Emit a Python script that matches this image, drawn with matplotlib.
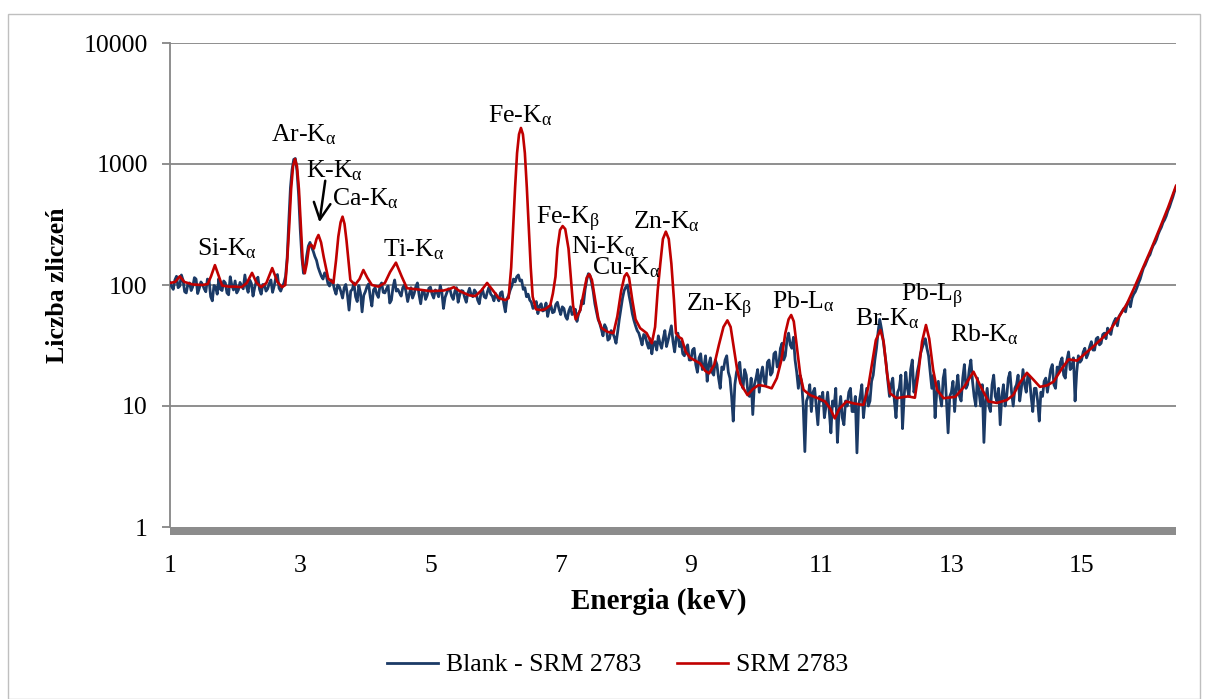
import matplotlib
matplotlib.use("Agg")
import matplotlib.pyplot as plt
from matplotlib.patches import Rectangle
import numpy as np

plt.rcParams['font.family'] = ['Liberation Serif', 'DejaVu Serif']
plt.rcParams['mathtext.fontset'] = 'custom'
plt.rcParams['mathtext.rm'] = 'Liberation Serif'
plt.rcParams['mathtext.it'] = 'Liberation Serif:italic'
plt.rcParams['mathtext.bf'] = 'Liberation Serif:bold'

# ---------------- data ----------------
blank_start_kev = 1.0
blank_step_kev = 0.025
blank_counts = [
    105, 97, 92, 110, 118, 95, 98, 121, 110, 88, 86, 102, 104, 90, 97, 115, 112, 85, 94, 106,
    101, 93, 88, 112, 109, 80, 74, 99, 96, 84, 113, 92, 90, 108, 104, 86, 83, 117, 99, 91,
    108, 86, 91, 105, 99, 93, 121, 97, 87, 110, 103, 81, 95, 107, 116, 92, 84, 101, 100, 89,
    93, 103, 110, 87, 98, 115, 122, 94, 89, 97, 104, 118, 170, 340, 640, 900, 1090, 1110, 880, 560,
    290, 170, 125, 140, 175, 210, 225, 205, 190, 172, 160, 140, 128, 118, 112, 126, 120, 103, 98, 110,
    106, 92, 84, 100, 97, 88, 78, 95, 101, 83, 62, 89, 92, 104, 80, 73, 99, 86, 60, 82,
    88, 97, 102, 80, 67, 91, 95, 84, 79, 99, 104, 87, 86, 93, 98, 71, 75, 96, 110, 89,
    92, 86, 81, 95, 100, 88, 73, 84, 95, 78, 85, 97, 104, 83, 70, 88, 90, 76, 82, 94,
    96, 84, 78, 91, 88, 80, 99, 87, 64, 79, 86, 93, 92, 81, 76, 89, 95, 72, 83, 90,
    89, 79, 72, 86, 94, 83, 80, 91, 87, 75, 70, 85, 92, 80, 78, 88, 96, 84, 81, 74,
    85, 79, 74, 86, 88, 71, 60, 77, 82, 91, 98, 112, 106, 117, 121, 108, 110, 92, 95, 80,
    84, 75, 72, 64, 66, 73, 58, 67, 70, 61, 62, 71, 55, 64, 68, 59, 60, 69, 72, 63,
    57, 66, 64, 55, 52, 61, 66, 57, 58, 63, 50, 58, 62, 75, 70, 92, 110, 124, 120, 105,
    88, 70, 60, 52, 48, 43, 38, 47, 44, 35, 36, 42, 40, 37, 33, 41, 52, 64, 78, 90,
    96, 100, 82, 70, 58, 51, 46, 42, 40, 36, 32, 39, 38, 33, 30, 36, 27, 33, 34, 29,
    38, 33, 30, 36, 42, 31, 35, 40, 46, 34, 28, 37, 40, 31, 34, 27, 26, 30, 32, 24,
    24, 29, 30, 22, 19, 25, 27, 20, 21, 26, 16, 22, 25, 19, 18, 24, 22, 17, 14, 21,
    20, 24, 26, 19, 17, 12, 7.5, 15, 19, 21, 23, 16, 14, 20, 18, 13, 12, 17, 8.5, 15,
    17, 20, 13, 18, 21, 16, 15, 23, 24, 18, 19, 27, 28, 21, 22, 30, 33, 24, 26, 35,
    40, 32, 30, 37, 24, 19, 14, 18, 16, 10, 4.2, 11, 12, 15, 9, 13, 14, 10, 7, 12,
    11, 13, 8, 10, 13, 9, 6, 11, 10, 14, 5, 9, 12, 8, 7, 11, 10, 13, 14, 9,
    9, 12, 4.1, 10, 12, 15, 8, 11, 14, 10, 11, 16, 18, 24, 30, 41, 52, 44, 36, 28,
    22, 16, 12, 15, 17, 11, 8, 13, 14, 18, 6.5, 12, 19, 14, 12, 20, 24, 13, 15, 19,
    22, 27, 30, 33, 36, 30, 26, 19, 14, 18, 8, 13, 16, 12, 10, 17, 20, 11, 6, 12,
    13, 16, 9, 14, 18, 12, 11, 17, 22, 14, 15, 20, 24, 16, 12, 10, 17, 13, 10, 15,
    5, 11, 14, 10, 9, 15, 18, 12, 11, 14, 7, 12, 15, 10, 12, 17, 19, 13, 10, 14,
    15, 18, 11, 14, 20, 15, 13, 18, 17, 12, 9, 14, 14, 11, 7.5, 13, 12, 16, 17, 13,
    16, 20, 22, 15, 14, 21, 19, 23, 25, 18, 17, 24, 28, 20, 21, 25, 11, 19, 26, 23,
    24, 28, 30, 25, 27, 31, 34, 29, 29, 36, 37, 32, 33, 39, 40, 36, 44, 41, 39, 46,
    50, 53, 46, 55, 58, 61, 64, 60, 70, 74, 66, 78, 84, 88, 95, 104, 112, 125, 138, 146,
    158, 170, 178, 196, 212, 222, 238, 262, 282, 300, 328, 346, 372, 410, 440, 485, 530, 590, 640,
]

srm_energy = [
    1.00, 1.08, 1.15, 1.22, 1.35, 1.50, 1.58, 1.63, 1.69, 1.75,
    1.80, 1.90, 2.00, 2.10, 2.18, 2.26, 2.33, 2.40, 2.48, 2.57,
    2.65, 2.72, 2.77, 2.80, 2.83, 2.86, 2.89, 2.92, 2.95, 2.98,
    3.01, 3.04, 3.07, 3.10, 3.135, 3.17, 3.21, 3.25, 3.28, 3.32,
    3.36, 3.43, 3.51, 3.55, 3.585, 3.62, 3.65, 3.68, 3.71, 3.74,
    3.77, 3.84, 3.91, 3.97, 4.03, 4.10, 4.20, 4.30, 4.38, 4.47,
    4.56, 4.64, 4.80, 5.00, 5.20, 5.30, 5.36, 5.45, 5.60, 5.69,
    5.78, 5.87, 5.96, 6.05, 6.15, 6.20, 6.24, 6.27, 6.30, 6.33,
    6.36, 6.39, 6.42, 6.45, 6.48, 6.51, 6.54, 6.57, 6.62, 6.70,
    6.76, 6.84, 6.88, 6.92, 6.95, 6.99, 7.03, 7.07, 7.12, 7.15,
    7.19, 7.23, 7.30, 7.36, 7.40, 7.44, 7.48, 7.53, 7.58, 7.63,
    7.72, 7.81, 7.87, 7.93, 7.98, 8.015, 8.05, 8.10, 8.15, 8.22,
    8.32, 8.40, 8.45, 8.49, 8.53, 8.57, 8.615, 8.66, 8.70, 8.74,
    8.77, 8.82, 8.86, 8.92, 8.99, 9.14, 9.22, 9.28, 9.36, 9.43,
    9.50, 9.56, 9.61, 9.66, 9.71, 9.76, 9.87, 9.95, 10.04, 10.14,
    10.24, 10.32, 10.39, 10.45, 10.50, 10.54, 10.58, 10.63, 10.68, 10.73,
    10.83, 10.95, 11.06, 11.14, 11.21, 11.28, 11.39, 11.50, 11.65, 11.72,
    11.78, 11.84, 11.91, 11.96, 12.01, 12.06, 12.16, 12.28, 12.34, 12.44,
    12.49, 12.55, 12.61, 12.66, 12.72, 12.78, 12.88, 13.06, 13.20, 13.34,
    13.45, 13.57, 13.70, 13.85, 13.95, 14.05, 14.16, 14.26, 14.36, 14.47,
    14.57, 14.70, 14.80, 14.93, 15.05, 15.18, 15.31, 15.44, 15.57, 15.70,
    15.82, 15.95, 16.08, 16.21, 16.33, 16.45,
]
srm_counts = [
    104, 106, 118, 106, 101, 100, 102, 118, 146, 118,
    99, 97, 97, 96, 104, 126, 104, 96, 104, 138,
    106, 96, 100, 160, 300, 620, 960, 1100, 960, 620,
    300, 150, 125, 150, 207, 215, 200, 240, 259, 225,
    171, 113, 104, 160, 251, 330, 367, 320, 235, 160,
    110, 100, 112, 133, 115, 100, 97, 104, 128, 153,
    117, 94, 92, 89, 90, 93, 96, 89, 82, 81,
    90, 104, 90, 78, 75, 78, 140, 300, 640, 1230,
    1760, 1985, 1760, 1230, 640, 300, 140, 80, 63, 62,
    63, 68, 85, 117, 200, 285, 307, 290, 200, 125,
    68, 52, 62, 90, 115, 123, 110, 75, 52, 44,
    41, 40, 55, 90, 118, 125, 115, 75, 52, 44,
    40, 33, 45, 90, 150, 240, 276, 240, 150, 75,
    40, 37, 36, 28, 25, 22.5, 19.5, 18.6, 22, 32,
    45, 51, 45, 30, 20, 15.4, 12.3, 13.8, 14.9, 14.6,
    14, 17, 24, 40, 52, 56.5, 50, 30, 18, 13.6,
    12.3, 11.6, 10.9, 9.5, 7.9, 9.5, 10.9, 10.5, 10.2, 14,
    22, 35, 42.5, 34, 19, 12.7, 11.6, 11.9, 12, 11.7,
    18, 34, 46.7, 36, 20, 13.6, 11.6, 11.9, 14.5, 19.2,
    14.5, 10.9, 10.6, 11.2, 12.3, 15.5, 18.8, 16.5, 14.4, 14.8,
    15.9, 20.5, 24.3, 23.7, 27, 31, 36, 42.5, 54, 70.6,
    98, 142, 205, 303, 440, 660,
]

series_names = ["Blank - SRM 2783", "SRM 2783"]
x_ticks = [1, 3, 5, 7, 9, 11, 13, 15]
y_ticks = [1, 10, 100, 1000, 10000]

# peak labels: (text, energy of left edge, counts at baseline)
peak_labels = [
    (r"Si-K$_{\mathrm{\alpha}}$", 1.41, 175),
    (r"Ar-K$_{\mathrm{\alpha}}$", 2.55, 1528),
    (r"K-K$_{\mathrm{\alpha}}$", 3.085, 777),
    (r"Ca-K$_{\mathrm{\alpha}}$", 3.484, 458),
    (r"Ti-K$_{\mathrm{\alpha}}$", 4.267, 171),
    (r"Fe-K$_{\mathrm{\alpha}}$", 5.89, 2213),
    (r"Fe-K$_{\mathrm{\beta}}$", 6.622, 318),
    (r"Ni-K$_{\mathrm{\alpha}}$", 7.155, 183),
    (r"Cu-K$_{\mathrm{\alpha}}$", 7.477, 123),
    (r"Zn-K$_{\mathrm{\alpha}}$", 8.117, 294),
    (r"Zn-K$_{\mathrm{\beta}}$", 8.92, 61),
    (r"Pb-L$_{\mathrm{\alpha}}$", 10.24, 64.2),
    (r"Br-K$_{\mathrm{\alpha}}$", 11.52, 46.7),
    (r"Pb-L$_{\mathrm{\beta}}$", 12.22, 72.8),
    (r"Rb-K$_{\mathrm{\alpha}}$", 12.98, 34),
]
arrow_tail = (3.39, 766)
arrow_head = (3.289, 313)

assert len(srm_energy) == len(srm_counts)
blank_energy = blank_start_kev + blank_step_kev * np.arange(len(blank_counts))

# ---------------- figure ----------------
W, H = 1206, 699
fig = plt.figure(figsize=(W / 100, H / 100), dpi=100)
fig.patch.set_facecolor("white")
fig.add_artist(Rectangle((7.5 / W, 0), (1199.5 - 7.5) / W, (H - 13.5) / H,
                         transform=fig.transFigure, fill=False,
                         edgecolor="#BFBFBF", linewidth=1.0))

ax = fig.add_axes([170 / W, 1 - 527 / H, (1176 - 170) / W, (527 - 43) / H])
ax.set_yscale("log")
ax.set_xlim(1, 16.45)
ax.set_ylim(1, 10000)

grid_c = "#868686"
for v in y_ticks[1:]:
    ax.axhline(v, color=grid_c, lw=1.3, zorder=1)

blue = "#1B3A66"
red = "#C00000"
ax.plot(blank_energy, blank_counts, color=blue, lw=2.0, zorder=3,
        label=series_names[0])
ax.plot(srm_energy, srm_counts, color=red, lw=1.9, zorder=4,
        label=series_names[1])

# thick floor bar
ax.add_patch(Rectangle((0, -0.017), 1, 0.017, transform=ax.transAxes,
                       facecolor="#8C8C8C", edgecolor="none", clip_on=False,
                       zorder=5))

for s in ["top", "right", "bottom"]:
    ax.spines[s].set_visible(False)
ax.spines["left"].set_color(grid_c)
ax.spines["left"].set_linewidth(1.3)

ax.set_yticks(y_ticks)
ax.set_yticklabels([str(v) for v in y_ticks])
ax.yaxis.set_minor_locator(matplotlib.ticker.NullLocator())
ax.set_xticks(x_ticks)
ax.set_xticklabels([str(v) for v in x_ticks])
ax.tick_params(axis="y", direction="out", length=6, width=1.3, color=grid_c,
               labelsize=18.5, pad=10)
ax.tick_params(axis="x", length=0, labelsize=18.5, pad=20)

fig.text(659 / W, 1 - 601 / H, "Energia (keV)", fontsize=21,
         fontweight="bold", ha="center", va="center")
fig.text(58 / W, 1 - 285 / H, "Liczba zliczeń", fontsize=18.5,
         fontweight="bold", ha="center", va="center", rotation=90)

for txt, e, c in peak_labels:
    ax.text(e, c, txt, fontsize=18.5, ha="left", va="baseline", zorder=6)

ax.annotate("", xy=arrow_head, xytext=arrow_tail,
            arrowprops=dict(arrowstyle="->", color="black", lw=1.8,
                            mutation_scale=30), zorder=6)

fig.legend(loc="center", bbox_to_anchor=(0.512, 1 - 665 / H), ncol=2,
           frameon=False, fontsize=18.5, handlelength=2.0, columnspacing=1.4,
           handletextpad=0.3)

fig.savefig("out.png", dpi=100)
